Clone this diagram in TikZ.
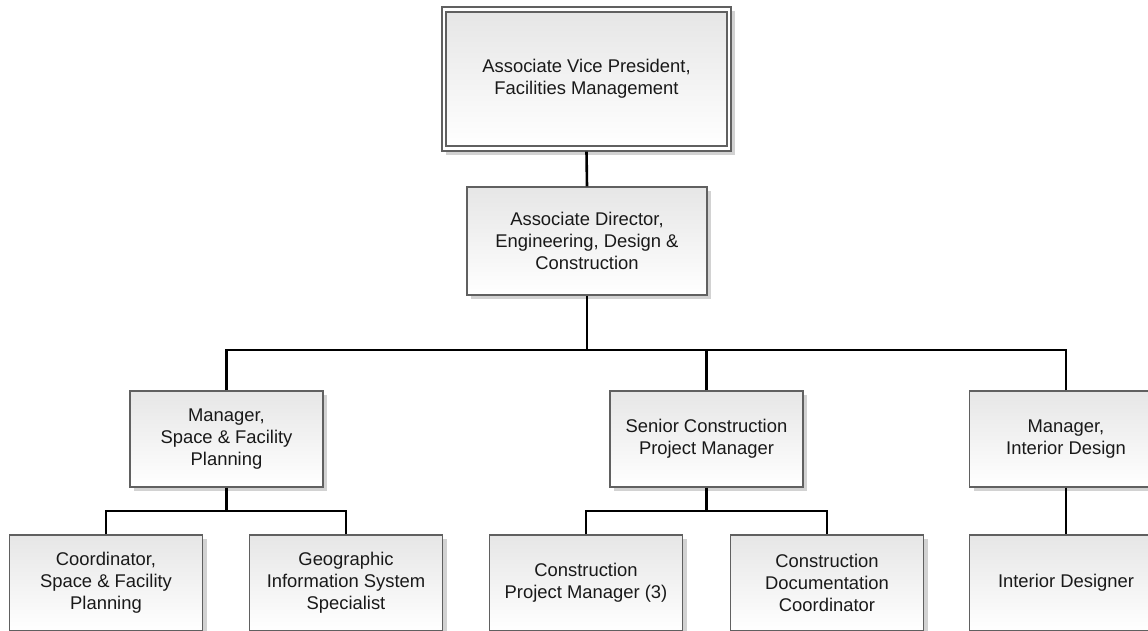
\documentclass[tikz,border=0pt]{standalone}
\usepackage{fontspec}
\setmainfont{Liberation Sans}
\usetikzlibrary{shadows}
\definecolor{boxtop}{RGB}{230,230,230}
\definecolor{boxline}{RGB}{96,96,96}
\definecolor{shadowc}{RGB}{210,210,210}
\tikzset{
  orgbox/.style={rectangle, draw=boxline, line width=1.3pt, top color=boxtop, bottom color=white,
    minimum width=193pt, minimum height=96pt, align=center, inner sep=2pt,
    font=\fontsize{18.4}{22}\selectfont, text=black!90,
    drop shadow={shadow xshift=4pt, shadow yshift=-4pt, fill=shadowc, opacity=1}},
  outerbox/.style={rectangle, draw=boxline, line width=1.3pt, fill=white,
    drop shadow={shadow xshift=4pt, shadow yshift=-4pt, fill=shadowc, opacity=1}},
  innerbox/.style={rectangle, draw=boxline, line width=1.3pt, top color=boxtop, bottom color=white,
    align=center, font=\fontsize{18.4}{22}\selectfont, text=black!90},
  link/.style={draw=black, line width=2.6pt}
}
\begin{document}
\begin{tikzpicture}[x=1pt,y=-1pt]
\useasboundingbox (0,0) rectangle (1148,630);
\clip (0,0) rectangle (1148,630);
% top
\node[outerbox, minimum width=289pt, minimum height=144pt] (avpo) at (586.5,79) {};
\node[innerbox, minimum width=281pt, minimum height=134pt] (avp) at (586.5,79) {Associate Vice President,\\Facilities Management};
\node[orgbox, minimum width=240pt, minimum height=108pt] (ad) at (587,241) {Associate Director,\\Engineering, Design \&\\Construction};
% level 2
\node[orgbox] (msf) at (226.5,439) {Manager,\\Space \& Facility\\Planning};
\node[orgbox] (scpm) at (706.5,439) {Senior Construction\\Project Manager};
\node[orgbox] (mid) at (1066,439) {Manager,\\Interior Design};
% level 3
\node[orgbox] (csf) at (106,583) {Coordinator,\\Space \& Facility\\Planning};
\node[orgbox] (gis) at (346,583) {Geographic\\Information System\\Specialist};
\node[orgbox] (cpm) at (586,583) {Construction\\Project Manager (3)};
\node[orgbox] (cdc) at (827,583) {Construction\\Documentation\\Coordinator};
\node[orgbox] (idr) at (1066,583) {Interior Designer};
% connectors
\coordinate (bar1) at (587,350);
\coordinate (bar2) at (226.5,511);
\coordinate (bar3) at (706.5,511);
\draw[link] (avpo.south) -- (ad.north);
\draw[link] (ad.south) -- (bar1);
\draw[link] (msf.north) |- (bar1);
\draw[link] (scpm.north) |- (bar1);
\draw[link] (mid.north) |- (bar1);
\draw[link] (msf.south) -- (bar2);
\draw[link] (csf.north) |- (bar2);
\draw[link] (gis.north) |- (bar2);
\draw[link] (scpm.south) -- (bar3);
\draw[link] (cpm.north) |- (bar3);
\draw[link] (cdc.north) |- (bar3);
\draw[link] (mid.south) -- (idr.north);
\end{tikzpicture}
\end{document}
